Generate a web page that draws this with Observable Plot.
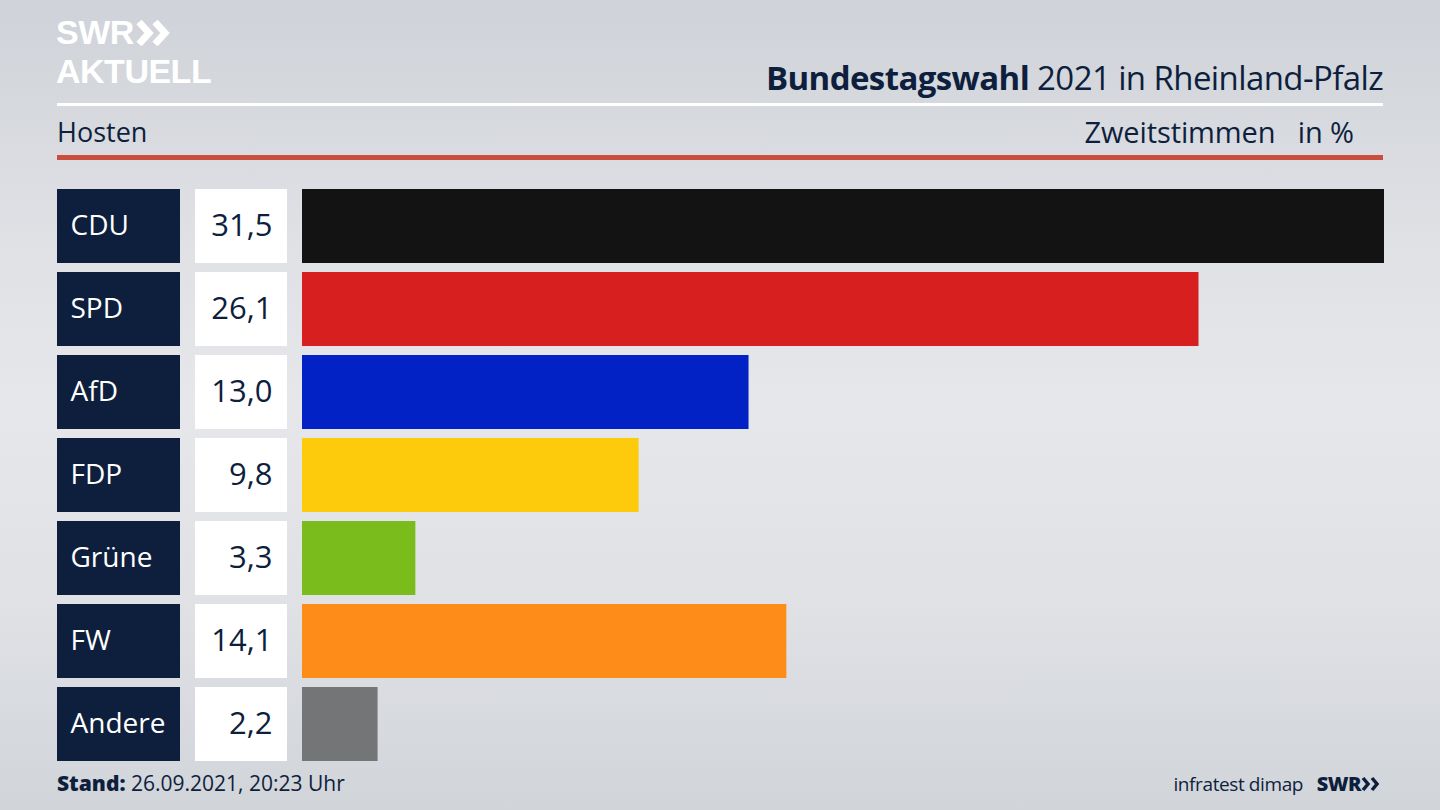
<!DOCTYPE html>
<html>
<head>
<meta charset="utf-8">
<script src="https://cdn.jsdelivr.net/npm/d3@7"></script>
<script src="https://cdn.jsdelivr.net/npm/@observablehq/plot@0.6"></script>
<style>
  html, body { margin: 0; padding: 0; }
  body { width: 1440px; height: 810px; overflow: hidden; font-family: "Open Sans", sans-serif; color: #0e1f3d; }
  #stage { position: relative; width: 1440px; height: 810px;
    background: linear-gradient(to bottom, #cfd2d8 0%, #dfe1e5 30%, #e6e7eb 50%, #dfe1e5 75%, #d1d4d9 100%); }
  .abs { position: absolute; white-space: nowrap; }
  .logo { color: #fff; font-family: "Liberation Sans", Arial, sans-serif; font-weight: 700; font-size: 34px; line-height: 39px; letter-spacing: -0.5px; }
  .chev { display: inline-block; vertical-align: top; margin-top: 7px; margin-left: 2px; }
  #title { right: 57px; top: 55px; font-size: 33px; letter-spacing: -0.6px; }
  #title b { font-weight: 700; }
  #hosten { left: 57px; top: 113px; font-size: 27px; }
  #zweit { right: 86px; top: 112px; font-size: 29px; letter-spacing: -0.1px; }
  .line { position: absolute; left: 57px; width: 1326px; }
  #foot1 { left: 57px; top: 769px; font-size: 21px; letter-spacing: 0px; }
  #foot2 { right: 57px; top: 770px; font-size: 19px; letter-spacing: -0.4px; }
  .plotbox { position: absolute; top: 188px; }
</style>
</head>
<body>
<div id="stage">
  <div class="abs logo" style="left:56px; top:13px;">SWR<svg class="chev" width="36" height="26" viewBox="0 0 36 26"><polyline points="3,2 13,13 3,24" fill="none" stroke="#fff" stroke-width="7"/><polyline points="19,2 29,13 19,24" fill="none" stroke="#fff" stroke-width="7"/></svg><br>AKTUELL</div>
  <div class="abs" id="title"><b>Bundestagswahl</b> 2021 in Rheinland-Pfalz</div>
  <div class="line" style="top:103px; height:3px; background:#fff;"></div>
  <div class="abs" id="hosten">Hosten</div>
  <div class="abs" id="zweit">Zweitstimmen&nbsp;&nbsp;&nbsp;in %</div>
  <div class="line" style="top:155px; height:5px; background:#c9503d;"></div>
  <div class="plotbox" id="p1" style="left:57px;"></div>
  <div class="plotbox" id="p2" style="left:195px;"></div>
  <div class="plotbox" id="p3" style="left:302px;"></div>
  <div class="abs" id="foot1"><b style="font-weight:800;">Stand:</b> 26.09.2021, 20:23 Uhr</div>
  <div class="abs" id="foot2">infratest dimap&nbsp;&nbsp;&nbsp;<b style="font-weight:800; letter-spacing:-0.5px; font-size:20px;">SWR</b><svg width="22" height="18" viewBox="0 0 22 18" style="vertical-align:-2px"><polyline points="2,3 7,9 2,15" fill="none" stroke="#0e1f3d" stroke-width="3.5"/><polyline points="11,3 16,9 11,15" fill="none" stroke="#0e1f3d" stroke-width="3.5"/></svg></div>
</div>
<script>
const parties = ["CDU", "SPD", "AfD", "FDP", "Grüne", "FW", "Andere"];
const values = [31.5, 26.1, 13.0, 9.8, 3.3, 14.1, 2.2];
const partyColors = ["#131313", "#d81f20", "#0222c6", "#fecb0c", "#79bc1c", "#fe8c18", "#737577"];

const data = parties.map((p, i) => ({party: p, value: values[i]}));
const navy = "#0e1f3d";
const H = 574;
const yOpts = {domain: parties, paddingInner: 0.104, paddingOuter: 0, axis: null};
const base = {height: H, marginTop: 0, marginBottom: 0, marginLeft: 0, marginRight: 0,
  style: {background: "transparent", overflow: "visible"}};
const fmt = v => v.toFixed(1).replace(".", ",");

const p1 = Plot.plot({
  ...base, width: 123, y: yOpts,
  marks: [
    Plot.cell(data, {y: "party", fill: navy}),
    Plot.text(data, {y: "party", text: "party", frameAnchor: "left", dx: 13, fill: "white",
      fontSize: 28, fontFamily: "Open Sans", textAnchor: "start"})
  ]
});
document.getElementById("p1").appendChild(p1);

const p2 = Plot.plot({
  ...base, width: 92, y: yOpts,
  marks: [
    Plot.cell(data, {y: "party", fill: "white"}),
    Plot.text(data, {y: "party", text: d => fmt(d.value), frameAnchor: "right", dx: -15, fill: navy,
      fontSize: 31, fontFamily: "Open Sans", textAnchor: "end"})
  ]
});
document.getElementById("p2").appendChild(p2);

const p3 = Plot.plot({
  ...base, width: 1082, y: yOpts,
  x: {domain: [0, 31.5], axis: null},
  color: {domain: parties, range: partyColors},
  marks: [
    Plot.barX(data, {x: "value", y: "party", fill: "party"})
  ]
});
document.getElementById("p3").appendChild(p3);
</script>
</body>
</html>
